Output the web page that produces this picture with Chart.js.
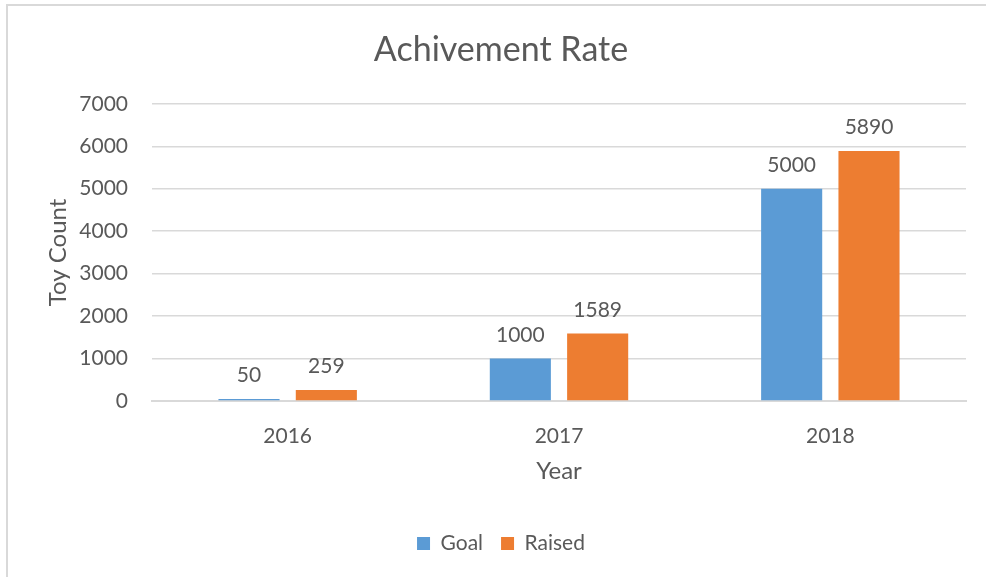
<!DOCTYPE html>
<html>
<head>
<meta charset="utf-8">
<script src="https://cdn.jsdelivr.net/npm/chart.js@4.4.1/dist/chart.umd.min.js"></script>
<style>
  html, body { margin: 0; padding: 0; background: #fff; }
  canvas { display: block; }
</style>
</head>
<body>
<canvas id="myChart" width="987" height="577"></canvas>
<script>
const years = ["2016", "2017", "2018"];
const goal = [50, 1000, 5000];
const raised = [259, 1589, 5890];
const yMax = 7000;
const yStep = 1000;

const grey = "#595959";
const gridColor = "#d9d9d9";
const blue = "#5b9bd5";
const orange = "#ed7d31";
const fontFamily = "Lato, 'Open Sans', sans-serif";

// frame lines like the Excel chart area
const frame = {
  id: "frame",
  beforeDraw(chart) {
    const { ctx, width, height } = chart;
    ctx.save();
    ctx.fillStyle = "#fff";
    ctx.fillRect(0, 0, width, height);
    ctx.strokeStyle = gridColor;
    ctx.lineWidth = 2;
    ctx.beginPath();
    ctx.moveTo(7, height);
    ctx.lineTo(7, 5);
    ctx.lineTo(986, 5);
    ctx.stroke();
    ctx.restore();
  },
};

// value labels above bars
const barLabels = {
  id: "barLabels",
  afterDatasetsDraw(chart) {
    const { ctx } = chart;
    ctx.save();
    ctx.font = "21px " + fontFamily;
    ctx.fillStyle = grey;
    ctx.textAlign = "center";
    ctx.textBaseline = "alphabetic";
    chart.data.datasets.forEach((ds, i) => {
      chart.getDatasetMeta(i).data.forEach((bar, j) => {
        ctx.fillText(ds.data[j], bar.x, bar.y - 17);
      });
    });
    ctx.restore();
  },
};

new Chart(document.getElementById("myChart"), {
  type: "bar",
  data: {
    labels: years,
    datasets: [
      { label: "Goal", data: goal, backgroundColor: blue },
      { label: "Raised", data: raised, backgroundColor: orange },
    ],
  },
  plugins: [frame, barLabels],
  options: {
    responsive: false,
    animation: false,
    categoryPercentage: 0.57,
    barPercentage: 0.79,
    layout: { padding: { left: 36, right: 21, top: 0, bottom: 13 } },
    plugins: {
      title: {
        display: true,
        text: "Achivement Rate",
        color: grey,
        font: { family: fontFamily, size: 34, weight: "normal" },
        padding: { top: 30, bottom: 33 },
      },
      legend: {
        position: "bottom",
        labels: {
          color: grey,
          boxWidth: 13,
          boxHeight: 13,
          padding: 18,
          font: { family: fontFamily, size: 21 },
        },
      },
      tooltip: { enabled: false },
    },
    scales: {
      x: {
        afterFit(scale) { scale.height = 114; },
        grid: { display: false },
        border: { color: gridColor, width: 2 },
        ticks: { color: grey, padding: 15, font: { family: fontFamily, size: 21 } },
        title: {
          display: true,
          text: "Year",
          color: grey,
          font: { family: fontFamily, size: 24 },
          padding: { top: 0, bottom: 29 },
        },
      },
      y: {
        min: 0,
        max: yMax,
        afterFit(scale) { scale.width = 116; },
        grid: { color: gridColor, lineWidth: 1.5, drawTicks: false },
        border: { display: false },
        ticks: {
          stepSize: yStep,
          color: grey,
          padding: 24,
          font: { family: fontFamily, size: 21 },
          callback: (v) => String(v),
        },
        title: {
          display: true,
          text: "Toy Count",
          color: grey,
          font: { family: fontFamily, size: 24 },
          padding: { top: 8, bottom: 0 },
        },
      },
    },
  },
});
</script>
</body>
</html>
